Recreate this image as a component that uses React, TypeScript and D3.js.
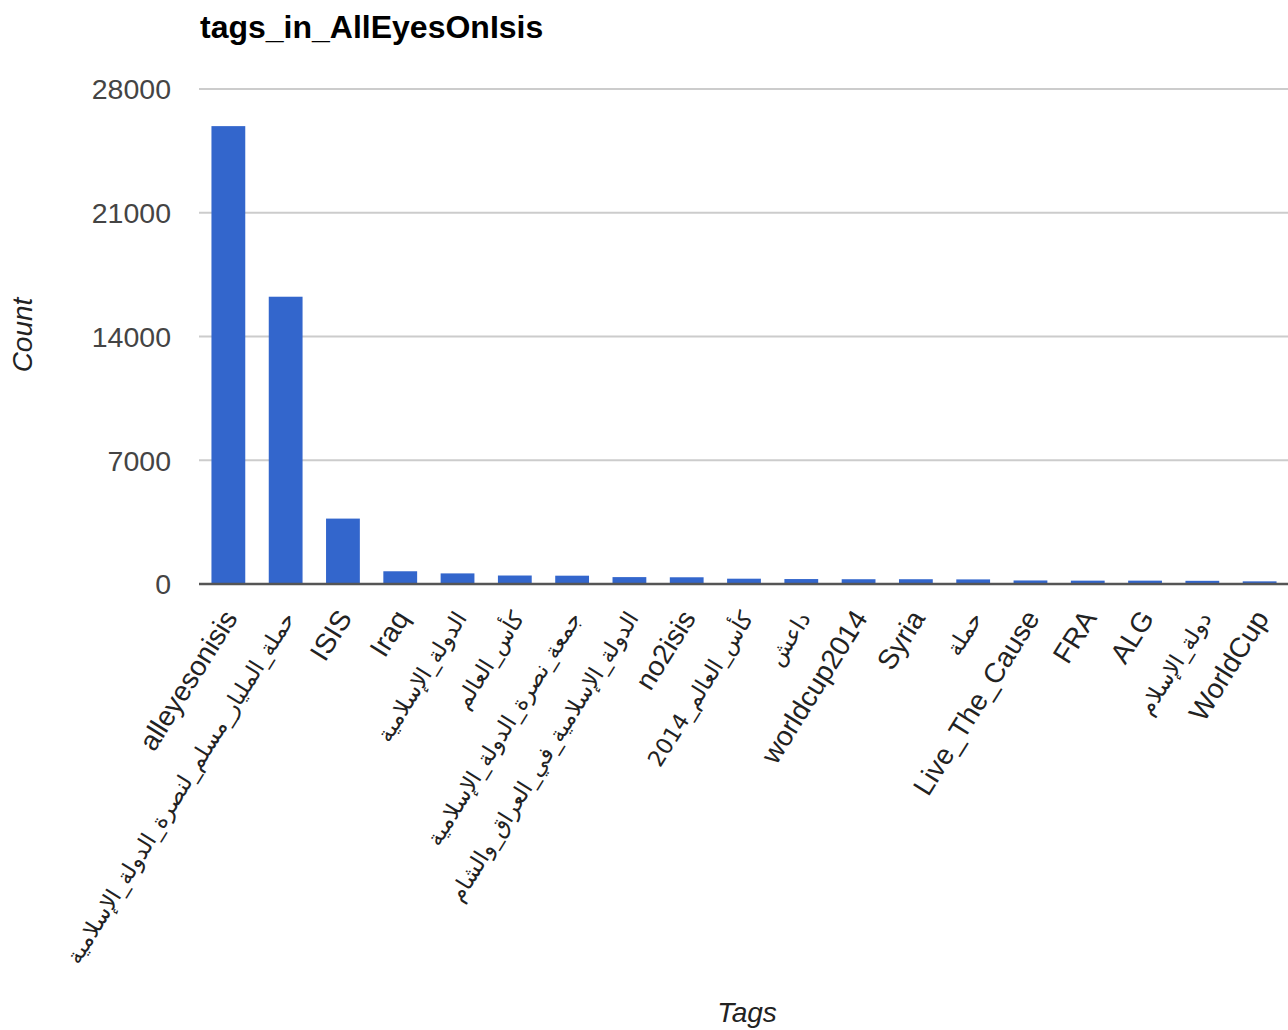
import React from "react";
import * as d3 from "d3";

const tags: string[] = [
  "alleyesonisis",
  "حملة_المليار_مسلم_لنصرة_الدولة_الإسلامية",
  "ISIS",
  "Iraq",
  "الدولة_الإسلامية",
  "كأس_العالم",
  "جمعة_نصرة_الدولة_الإسلامية",
  "الدولة_الإسلامية_في_العراق_والشام",
  "no2isis",
  "كأس_العالم_2014",
  "داعش",
  "worldcup2014",
  "Syria",
  "حملة",
  "Live_The_Cause",
  "FRA",
  "ALG",
  "دولة_الإسلام",
  "WorldCup",
];

const counts: number[] = [
  25900, 16250, 3700, 720, 600, 480, 470, 390, 380, 300, 280, 270, 270, 260,
  200, 190, 190, 180, 150,
];

const yTicks: number[] = [0, 7000, 14000, 21000, 28000];

const title = "tags_in_AllEyesOnIsis";
const xTitle = "Tags";
const yTitle = "Count";

const W = 1288;
const H = 1030;
const FONT = "'Liberation Sans', Arial, sans-serif";
const ARABIC = /[\u0600-\u06FF]/;

export default function App() {
  const x = d3
    .scaleBand<string>()
    .domain(tags)
    .range([200, 1288])
    .paddingInner(0.41)
    .paddingOuter(0.2);
  const y = d3.scaleLinear().domain([0, 28000]).range([584, 89]);
  const bw = x.bandwidth();

  return (
    <div style={{ position: "absolute", left: 0, top: 0 }}>
      <svg width={W} height={H} style={{ display: "block", background: "#fff" }}>
        <text x={200} y={38} fontFamily={FONT} fontSize={32} fontWeight="bold" fill="#000">
          {title}
        </text>
        {yTicks.map((t) => (
          <g key={t}>
            {t !== 0 && (
              <line x1={199} x2={W} y1={y(t)} y2={y(t)} stroke="#cccccc" strokeWidth={2} />
            )}
            <text
              x={171}
              y={y(t)}
              dy="0.36em"
              textAnchor="end"
              fontFamily={FONT}
              fontSize={28.5}
              fill="#444"
            >
              {t}
            </text>
          </g>
        ))}
        {tags.map((d, i) => (
          <rect
            key={d}
            x={x(d)}
            y={y(counts[i])}
            width={bw}
            height={y(0) - y(counts[i])}
            fill="#3366cc"
          />
        ))}
        <line x1={199} x2={W} y1={y(0)} y2={y(0)} stroke="#555" strokeWidth={2.5} />
        {tags.map((d) => {
          const cx = (x(d) as number) + bw / 2;
          const ar = ARABIC.test(d);
          return (
            <text
              key={"l" + d}
              transform={`translate(${cx + 10},${618}) rotate(-58)`}
              textAnchor="end"
              fontFamily={ar ? "'DejaVu Sans', sans-serif" : FONT}
              fontSize={ar ? 22.5 : 28}
              fill="#222"
            >
              {d}
            </text>
          );
        })}
        <text
          x={747}
          y={1022}
          textAnchor="middle"
          fontFamily={FONT}
          fontSize={28}
          fontStyle="italic"
          fill="#222"
        >
          {xTitle}
        </text>
        <text
          transform={`translate(32,335) rotate(-90)`}
          textAnchor="middle"
          fontFamily={FONT}
          fontSize={28}
          fontStyle="italic"
          fill="#222"
        >
          {yTitle}
        </text>
      </svg>
    </div>
  );
}
